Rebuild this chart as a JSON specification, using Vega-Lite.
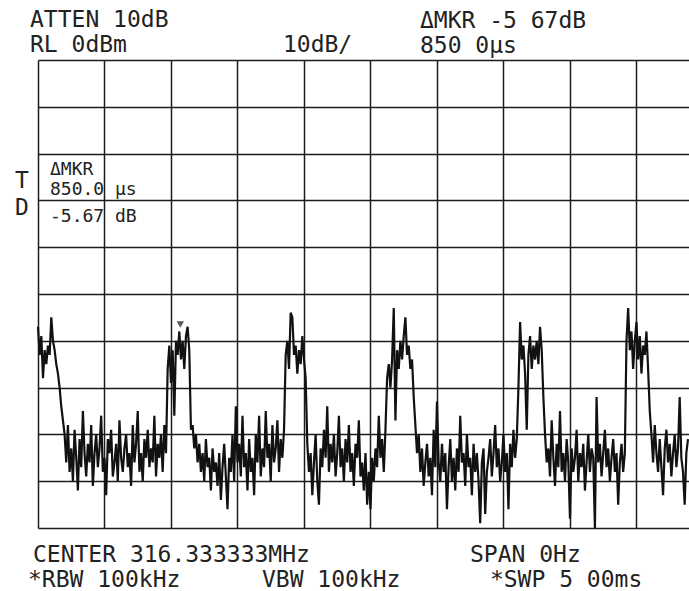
{
"$schema": "https://vega.github.io/schema/vega-lite/v6.json",
"width": 651, "height": 468,
"autosize": {"type": "none"},
"padding": {"left": 38, "top": 60, "right": 0, "bottom": 63},
"background": "white",
"config": {"view": {"stroke": null}},
"datasets": {
"trace": [
{"t":0,"v":-57},{"t":0.0125,"v":-63},{"t":0.025,"v":-59},{"t":0.0375,"v":-68},{"t":0.05,"v":-62},{"t":0.0625,"v":-65},{"t":0.075,"v":-61},{"t":0.0875,"v":-63},
{"t":0.1,"v":-55},{"t":0.1125,"v":-60},{"t":0.125,"v":-62},{"t":0.1375,"v":-65},{"t":0.15,"v":-67},{"t":0.1625,"v":-70},{"t":0.175,"v":-74},{"t":0.1875,"v":-77},
{"t":0.2,"v":-80},{"t":0.2125,"v":-86},{"t":0.225,"v":-78},{"t":0.2375,"v":-88},{"t":0.25,"v":-83},{"t":0.2625,"v":-90},{"t":0.275,"v":-79},{"t":0.2875,"v":-85},
{"t":0.3,"v":-92},{"t":0.3125,"v":-81},{"t":0.325,"v":-87},{"t":0.3375,"v":-75},{"t":0.35,"v":-84},{"t":0.3625,"v":-89},{"t":0.375,"v":-82},{"t":0.3875,"v":-86},
{"t":0.4,"v":-78},{"t":0.4125,"v":-91},{"t":0.425,"v":-84},{"t":0.4375,"v":-80},{"t":0.45,"v":-87},{"t":0.4625,"v":-83},{"t":0.475,"v":-76},{"t":0.4875,"v":-88},
{"t":0.5,"v":-85},{"t":0.5125,"v":-93},{"t":0.525,"v":-81},{"t":0.5375,"v":-84},{"t":0.55,"v":-79},{"t":0.5625,"v":-89},{"t":0.575,"v":-86},{"t":0.5875,"v":-82},
{"t":0.6,"v":-90},{"t":0.6125,"v":-77},{"t":0.625,"v":-85},{"t":0.6375,"v":-88},{"t":0.65,"v":-83},{"t":0.6625,"v":-80},{"t":0.675,"v":-87},{"t":0.6875,"v":-84},
{"t":0.7,"v":-91},{"t":0.7125,"v":-78},{"t":0.725,"v":-86},{"t":0.7375,"v":-82},{"t":0.75,"v":-75},{"t":0.7625,"v":-88},{"t":0.775,"v":-84},{"t":0.7875,"v":-90},
{"t":0.8,"v":-81},{"t":0.8125,"v":-85},{"t":0.825,"v":-79},{"t":0.8375,"v":-87},{"t":0.85,"v":-83},{"t":0.8625,"v":-86},{"t":0.875,"v":-76},{"t":0.8875,"v":-89},
{"t":0.9,"v":-82},{"t":0.9125,"v":-85},{"t":0.925,"v":-80},{"t":0.9375,"v":-88},{"t":0.95,"v":-78},{"t":0.9625,"v":-84},{"t":0.975,"v":-66},{"t":0.9875,"v":-61},
{"t":1.0,"v":-69},{"t":1.0125,"v":-62},{"t":1.025,"v":-76},{"t":1.0375,"v":-60},{"t":1.05,"v":-63},{"t":1.0625,"v":-58},{"t":1.075,"v":-64},{"t":1.0875,"v":-60},
{"t":1.1,"v":-66},{"t":1.1125,"v":-59},{"t":1.125,"v":-57},{"t":1.1375,"v":-62},{"t":1.15,"v":-79},{"t":1.1625,"v":-78},{"t":1.175,"v":-83},{"t":1.1875,"v":-80},
{"t":1.2,"v":-86},{"t":1.2125,"v":-82},{"t":1.225,"v":-88},{"t":1.2375,"v":-84},{"t":1.25,"v":-90},{"t":1.2625,"v":-81},{"t":1.275,"v":-87},{"t":1.2875,"v":-85},
{"t":1.3,"v":-92},{"t":1.3125,"v":-83},{"t":1.325,"v":-88},{"t":1.3375,"v":-86},{"t":1.35,"v":-91},{"t":1.3625,"v":-84},{"t":1.375,"v":-94},{"t":1.3875,"v":-87},
{"t":1.4,"v":-82},{"t":1.4125,"v":-89},{"t":1.425,"v":-96},{"t":1.4375,"v":-85},{"t":1.45,"v":-88},{"t":1.4625,"v":-80},{"t":1.475,"v":-90},{"t":1.4875,"v":-74},
{"t":1.5,"v":-86},{"t":1.5125,"v":-82},{"t":1.525,"v":-89},{"t":1.5375,"v":-76},{"t":1.55,"v":-87},{"t":1.5625,"v":-84},{"t":1.575,"v":-92},{"t":1.5875,"v":-81},
{"t":1.6,"v":-88},{"t":1.6125,"v":-85},{"t":1.625,"v":-93},{"t":1.6375,"v":-80},{"t":1.65,"v":-86},{"t":1.6625,"v":-76},{"t":1.675,"v":-89},{"t":1.6875,"v":-83},
{"t":1.7,"v":-87},{"t":1.7125,"v":-75},{"t":1.725,"v":-85},{"t":1.7375,"v":-82},{"t":1.75,"v":-90},{"t":1.7625,"v":-78},{"t":1.775,"v":-86},{"t":1.7875,"v":-83},
{"t":1.8,"v":-77},{"t":1.8125,"v":-88},{"t":1.825,"v":-81},{"t":1.8375,"v":-85},{"t":1.85,"v":-79},{"t":1.8625,"v":-63},{"t":1.875,"v":-60},{"t":1.8875,"v":-66},
{"t":1.9,"v":-54},{"t":1.9125,"v":-55},{"t":1.925,"v":-63},{"t":1.9375,"v":-61},{"t":1.95,"v":-67},{"t":1.9625,"v":-62},{"t":1.975,"v":-65},{"t":1.9875,"v":-59},
{"t":2.0,"v":-64},{"t":2.0125,"v":-68},{"t":2.025,"v":-82},{"t":2.0375,"v":-88},{"t":2.05,"v":-84},{"t":2.0625,"v":-93},{"t":2.075,"v":-86},{"t":2.0875,"v":-80},
{"t":2.1,"v":-90},{"t":2.1125,"v":-95},{"t":2.125,"v":-83},{"t":2.1375,"v":-87},{"t":2.15,"v":-79},{"t":2.1625,"v":-85},{"t":2.175,"v":-74},{"t":2.1875,"v":-88},
{"t":2.2,"v":-82},{"t":2.2125,"v":-86},{"t":2.225,"v":-80},{"t":2.2375,"v":-89},{"t":2.25,"v":-84},{"t":2.2625,"v":-76},{"t":2.275,"v":-87},{"t":2.2875,"v":-83},
{"t":2.3,"v":-90},{"t":2.3125,"v":-81},{"t":2.325,"v":-86},{"t":2.3375,"v":-78},{"t":2.35,"v":-88},{"t":2.3625,"v":-84},{"t":2.375,"v":-91},{"t":2.3875,"v":-82},
{"t":2.4,"v":-85},{"t":2.4125,"v":-77},{"t":2.425,"v":-89},{"t":2.4375,"v":-86},{"t":2.45,"v":-92},{"t":2.4625,"v":-84},{"t":2.475,"v":-95},{"t":2.4875,"v":-88},
{"t":2.5,"v":-96},{"t":2.5125,"v":-85},{"t":2.525,"v":-90},{"t":2.5375,"v":-83},{"t":2.55,"v":-87},{"t":2.5625,"v":-76},{"t":2.575,"v":-85},{"t":2.5875,"v":-81},
{"t":2.6,"v":-88},{"t":2.6125,"v":-79},{"t":2.625,"v":-68},{"t":2.6375,"v":-65},{"t":2.65,"v":-70},{"t":2.6625,"v":-64},{"t":2.675,"v":-53},{"t":2.6875,"v":-77},
{"t":2.7,"v":-62},{"t":2.7125,"v":-66},{"t":2.725,"v":-60},{"t":2.7375,"v":-64},{"t":2.75,"v":-59},{"t":2.7625,"v":-55},{"t":2.775,"v":-63},{"t":2.7875,"v":-61},
{"t":2.8,"v":-66},{"t":2.8125,"v":-64},{"t":2.825,"v":-72},{"t":2.8375,"v":-78},{"t":2.85,"v":-84},{"t":2.8625,"v":-80},{"t":2.875,"v":-88},{"t":2.8875,"v":-83},
{"t":2.9,"v":-91},{"t":2.9125,"v":-86},{"t":2.925,"v":-82},{"t":2.9375,"v":-89},{"t":2.95,"v":-85},{"t":2.9625,"v":-93},{"t":2.975,"v":-79},{"t":2.9875,"v":-87},
{"t":3.0,"v":-73},{"t":3.0125,"v":-86},{"t":3.025,"v":-90},{"t":3.0375,"v":-82},{"t":3.05,"v":-88},{"t":3.0625,"v":-84},{"t":3.075,"v":-96},{"t":3.0875,"v":-87},
{"t":3.1,"v":-81},{"t":3.1125,"v":-90},{"t":3.125,"v":-85},{"t":3.1375,"v":-92},{"t":3.15,"v":-83},{"t":3.1625,"v":-88},{"t":3.175,"v":-76},{"t":3.1875,"v":-86},
{"t":3.2,"v":-84},{"t":3.2125,"v":-91},{"t":3.225,"v":-80},{"t":3.2375,"v":-87},{"t":3.25,"v":-85},{"t":3.2625,"v":-93},{"t":3.275,"v":-82},{"t":3.2875,"v":-88},
{"t":3.3,"v":-84},{"t":3.3125,"v":-90},{"t":3.325,"v":-99},{"t":3.3375,"v":-86},{"t":3.35,"v":-83},{"t":3.3625,"v":-97},{"t":3.375,"v":-88},{"t":3.3875,"v":-85},
{"t":3.4,"v":-81},{"t":3.4125,"v":-89},{"t":3.425,"v":-84},{"t":3.4375,"v":-78},{"t":3.45,"v":-87},{"t":3.4625,"v":-83},{"t":3.475,"v":-90},{"t":3.4875,"v":-86},
{"t":3.5,"v":-80},{"t":3.5125,"v":-88},{"t":3.525,"v":-84},{"t":3.5375,"v":-96},{"t":3.55,"v":-82},{"t":3.5625,"v":-87},{"t":3.575,"v":-79},{"t":3.5875,"v":-85},
{"t":3.6,"v":-81},{"t":3.6125,"v":-70},{"t":3.625,"v":-56},{"t":3.6375,"v":-64},{"t":3.65,"v":-61},{"t":3.6625,"v":-67},{"t":3.675,"v":-79},{"t":3.6875,"v":-63},
{"t":3.7,"v":-59},{"t":3.7125,"v":-66},{"t":3.725,"v":-61},{"t":3.7375,"v":-64},{"t":3.75,"v":-60},{"t":3.7625,"v":-65},{"t":3.775,"v":-57},{"t":3.7875,"v":-62},
{"t":3.8,"v":-72},{"t":3.8125,"v":-80},{"t":3.825,"v":-86},{"t":3.8375,"v":-83},{"t":3.85,"v":-89},{"t":3.8625,"v":-77},{"t":3.875,"v":-85},{"t":3.8875,"v":-91},
{"t":3.9,"v":-82},{"t":3.9125,"v":-87},{"t":3.925,"v":-75},{"t":3.9375,"v":-88},{"t":3.95,"v":-84},{"t":3.9625,"v":-90},{"t":3.975,"v":-81},{"t":3.9875,"v":-86},
{"t":4.0,"v":-98},{"t":4.0125,"v":-83},{"t":4.025,"v":-88},{"t":4.0375,"v":-85},{"t":4.05,"v":-79},{"t":4.0625,"v":-90},{"t":4.075,"v":-84},{"t":4.0875,"v":-87},
{"t":4.1,"v":-82},{"t":4.1125,"v":-92},{"t":4.125,"v":-86},{"t":4.1375,"v":-80},{"t":4.15,"v":-88},{"t":4.1625,"v":-83},{"t":4.175,"v":-85},{"t":4.1875,"v":-100},
{"t":4.2,"v":-72},{"t":4.2125,"v":-86},{"t":4.225,"v":-82},{"t":4.2375,"v":-89},{"t":4.25,"v":-84},{"t":4.2625,"v":-79},{"t":4.275,"v":-87},{"t":4.2875,"v":-83},
{"t":4.3,"v":-90},{"t":4.3125,"v":-85},{"t":4.325,"v":-81},{"t":4.3375,"v":-88},{"t":4.35,"v":-84},{"t":4.3625,"v":-95},{"t":4.375,"v":-86},{"t":4.3875,"v":-82},
{"t":4.4,"v":-88},{"t":4.4125,"v":-84},{"t":4.425,"v":-60},{"t":4.4375,"v":-53},{"t":4.45,"v":-62},{"t":4.4625,"v":-58},{"t":4.475,"v":-66},{"t":4.4875,"v":-60},
{"t":4.5,"v":-56},{"t":4.5125,"v":-64},{"t":4.525,"v":-59},{"t":4.5375,"v":-67},{"t":4.55,"v":-61},{"t":4.5625,"v":-63},{"t":4.575,"v":-58},{"t":4.5875,"v":-66},
{"t":4.6,"v":-75},{"t":4.6125,"v":-80},{"t":4.625,"v":-86},{"t":4.6375,"v":-78},{"t":4.65,"v":-84},{"t":4.6625,"v":-88},{"t":4.675,"v":-81},{"t":4.6875,"v":-87},
{"t":4.7,"v":-93},{"t":4.7125,"v":-83},{"t":4.725,"v":-79},{"t":4.7375,"v":-86},{"t":4.75,"v":-82},{"t":4.7625,"v":-89},{"t":4.775,"v":-84},{"t":4.7875,"v":-80},
{"t":4.8,"v":-87},{"t":4.8125,"v":-83},{"t":4.825,"v":-72},{"t":4.8375,"v":-85},{"t":4.85,"v":-88},{"t":4.8625,"v":-95},{"t":4.875,"v":-84},{"t":4.8875,"v":-81}
],
"markers": [{"t": 1.07, "v": -56.5}],
"labels": [
{"t": -0.060, "v": 7.05, "label": "ATTEN 10dB"},
{"t": -0.060, "v": 1.71, "label": "RL 0dBm"},
{"t": 1.842, "v": 1.71, "label": "10dB/"},
{"t": 2.872, "v": 6.84, "label": "ΔMKR -5 67dB"},
{"t": 2.872, "v": 1.50, "label": "850 0µs"},
{"t": -0.173, "v": -27.35, "label": "T"},
{"t": -0.173, "v": -33.12, "label": "D"},
{"t": -0.038, "v": -107.26, "label": "CENTER 316.333333MHz"},
{"t": 3.248, "v": -107.26, "label": "SPAN 0Hz"},
{"t": -0.075, "v": -112.61, "label": "*RBW 100kHz"},
{"t": 1.684, "v": -112.61, "label": "VBW 100kHz"},
{"t": 3.398, "v": -112.61, "label": "*SWP 5 00ms"}
],
"boxlabels": [
{"t": 0.090, "v": -24.57, "label": "ΔMKR"},
{"t": 0.090, "v": -28.85, "label": "850.0 µs"},
{"t": 0.090, "v": -34.62, "label": "-5.67 dB"}
]
},
"layer": [
{
"data": {"name": "trace"},
"mark": {"type": "line", "color": "#111111", "strokeWidth": 2.2, "interpolate": "linear"},
"encoding": {
"x": {"field": "t", "type": "quantitative",
"scale": {"domain": [0, 4.895], "nice": false, "zero": false},
"axis": {"values": [0, 0.5, 1, 1.5, 2, 2.5, 3, 3.5, 4, 4.5], "grid": true, "gridColor": "#1c1c1c", "gridWidth": 1.5, "gridOpacity": 1, "labels": false, "ticks": false, "domain": false, "title": null}},
"y": {"field": "v", "type": "quantitative",
"scale": {"domain": [-100, 0], "nice": false, "zero": false},
"axis": {"values": [0, -10, -20, -30, -40, -50, -60, -70, -80, -90, -100], "grid": true, "gridColor": "#1c1c1c", "gridWidth": 1.5, "gridOpacity": 1, "labels": false, "ticks": false, "domain": false, "title": null}}
}
},
{
"data": {"name": "markers"},
"mark": {"type": "point", "shape": "triangle-down", "filled": true, "color": "#111111", "size": 55},
"encoding": {
"x": {"field": "t", "type": "quantitative"},
"y": {"field": "v", "type": "quantitative"}
}
},
{
"data": {"name": "labels"},
"mark": {"type": "text", "font": "DejaVu Sans Mono", "fontSize": 23, "align": "left", "baseline": "alphabetic", "color": "#222222"},
"encoding": {
"x": {"field": "t", "type": "quantitative"},
"y": {"field": "v", "type": "quantitative"},
"text": {"field": "label", "type": "nominal"}
}
},
{
"data": {"name": "boxlabels"},
"mark": {"type": "text", "font": "DejaVu Sans Mono", "fontSize": 18, "align": "left", "baseline": "alphabetic", "color": "#222222"},
"encoding": {
"x": {"field": "t", "type": "quantitative"},
"y": {"field": "v", "type": "quantitative"},
"text": {"field": "label", "type": "nominal"}
}
}
]
}
